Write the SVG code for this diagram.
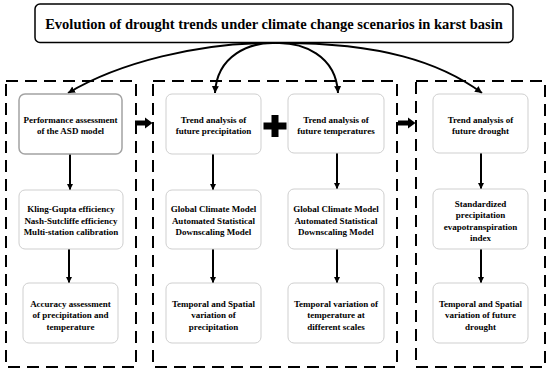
<svg xmlns="http://www.w3.org/2000/svg" width="550" height="374" viewBox="0 0 550 374" font-family="'Liberation Serif','DejaVu Serif','Times New Roman',serif">
<style>
text{font-family:"Liberation Serif","DejaVu Serif","Times New Roman",serif;font-weight:700;fill:#000;text-anchor:middle}
.t{font-size:9px}
.title{font-size:14.5px}
.box{fill:#fff;stroke:#cfcfcf;stroke-width:1}
.box.dark{stroke:#a3a3a3;stroke-width:1.5}
.panel{fill:none;stroke:#000;stroke-width:2;stroke-dasharray:12 7}
.con{fill:none;stroke:#000;stroke-width:2}
</style>
<defs>
<marker id="ah" markerWidth="8" markerHeight="8" refX="7" refY="4" orient="auto" markerUnits="userSpaceOnUse"><path d="M0,0.5 L7,4 L0,7.5 Z" fill="#000"/></marker>
<marker id="ahs" markerWidth="7" markerHeight="7" refX="6" refY="3.5" orient="auto" markerUnits="userSpaceOnUse"><path d="M0,0.5 L6,3.5 L0,6.5 Z" fill="#000"/></marker>
</defs>
<rect width="550" height="374" fill="#fff"/>
<g id="panels">
<rect class="panel" x="6" y="81" width="130" height="286"/>
<rect class="panel" x="153" y="81" width="244" height="286"/>
<rect class="panel" x="416" y="81" width="129" height="286"/>
</g>
<g id="title">
<rect x="35" y="4" width="478" height="38.5" rx="5" fill="#fff" stroke="#000" stroke-width="1.5"/>
<text class="title" x="274" y="28.5" font-family="Liberation Serif" font-weight="bold">Evolution of drought trends under climate change scenarios in karst basin</text>
</g>
<g id="connectors">
<path class="con" d="M268,43 C200,43 120,62 68,93" marker-end="url(#ah)"/>
<path class="con" d="M276,43 C250,42 217,55 215,93" marker-end="url(#ah)"/>
<path class="con" d="M276,43 C302,42 336,55 338,93" marker-end="url(#ah)"/>
<path class="con" d="M282,43 C380,43 440,62 482,93" marker-end="url(#ah)"/>
<line class="con" x1="70" y1="154" x2="70" y2="190" marker-end="url(#ahs)"/>
<line class="con" x1="69" y1="249" x2="69" y2="283" marker-end="url(#ahs)"/>
<line class="con" x1="213" y1="154" x2="213" y2="190" marker-end="url(#ahs)"/>
<line class="con" x1="213" y1="249" x2="213" y2="283" marker-end="url(#ahs)"/>
<line class="con" x1="337" y1="153" x2="337" y2="189" marker-end="url(#ahs)"/>
<line class="con" x1="337" y1="249" x2="337" y2="283" marker-end="url(#ahs)"/>
<line class="con" x1="481" y1="153" x2="481" y2="189" marker-end="url(#ahs)"/>
<line class="con" x1="481" y1="249" x2="481" y2="283" marker-end="url(#ahs)"/>
<polygon points="135,120.5 145,120.5 145,117.5 152.5,123 145,128.5 145,125.5 135,125.5" fill="#000"/>
<polygon points="398,120.5 408,120.5 408,117.5 415.5,123 408,128.5 408,125.5 398,125.5" fill="#000"/>
</g>
<g id="plus">
<polygon points="271.5,115 278.5,115 278.5,122.5 286.5,122.5 286.5,129.5 278.5,129.5 278.5,137 271.5,137 271.5,129.5 263.5,129.5 263.5,122.5 271.5,122.5" fill="#000"/>
</g>
<g id="n-perf">
<rect class="box dark" x="19" y="94" width="103" height="60" rx="6"/>
<text class="t" x="70.5" y="123">Performance assessment</text>
<text class="t" x="70.5" y="134">of the ASD model</text>
</g>
<g id="n-kge">
<rect class="box" x="19" y="190" width="104" height="59" rx="6"/>
<text class="t" x="71" y="212">Kling-Gupta efficiency</text>
<text class="t" x="71" y="223.5">Nash-Sutcliffe efficiency</text>
<text class="t" x="71" y="235">Multi-station calibration</text>
</g>
<g id="n-acc">
<rect class="box" x="23" y="283" width="95" height="60" rx="6"/>
<text class="t" x="70.5" y="306.5">Accuracy assessment</text>
<text class="t" x="70.5" y="318">of precipitation and</text>
<text class="t" x="70.5" y="329.5">temperature</text>
</g>
<g id="n-prec">
<rect class="box" x="166" y="94" width="95" height="60" rx="6"/>
<text class="t" x="213.5" y="123">Trend analysis of</text>
<text class="t" x="213.5" y="134">future precipitation</text>
</g>
<g id="n-gcm1">
<rect class="box" x="166" y="190" width="95" height="59" rx="6"/>
<text class="t" x="213.5" y="212">Global Climate Model</text>
<text class="t" x="213.5" y="223.5">Automated Statistical</text>
<text class="t" x="213.5" y="235">Downscaling Model</text>
</g>
<g id="n-prec-var">
<rect class="box" x="166" y="283" width="95" height="60" rx="6"/>
<text class="t" x="213.5" y="306.5">Temporal and Spatial</text>
<text class="t" x="213.5" y="318">variation of</text>
<text class="t" x="213.5" y="329.5">precipitation</text>
</g>
<g id="n-temp">
<rect class="box" x="288" y="94" width="96" height="59" rx="6"/>
<text class="t" x="336" y="123">Trend analysis of</text>
<text class="t" x="336" y="134">future temperatures</text>
</g>
<g id="n-gcm2">
<rect class="box" x="288" y="189" width="96" height="60" rx="6"/>
<text class="t" x="336" y="212">Global Climate Model</text>
<text class="t" x="336" y="223.5">Automated Statistical</text>
<text class="t" x="336" y="235">Downscaling Model</text>
</g>
<g id="n-temp-var">
<rect class="box" x="288" y="283" width="96" height="60" rx="6"/>
<text class="t" x="336" y="306.5">Temporal variation of</text>
<text class="t" x="336" y="318">temperature at</text>
<text class="t" x="336" y="329.5">different scales</text>
</g>
<g id="n-drought">
<rect class="box" x="433" y="94" width="95" height="59" rx="6"/>
<text class="t" x="480.5" y="123">Trend analysis of</text>
<text class="t" x="480.5" y="134">future drought</text>
</g>
<g id="n-spei">
<rect class="box" x="433" y="189" width="95" height="60" rx="6"/>
<text class="t" x="480.5" y="206.5">Standardized</text>
<text class="t" x="480.5" y="218">precipitation</text>
<text class="t" x="480.5" y="229.5">evapotranspiration</text>
<text class="t" x="480.5" y="241">index</text>
</g>
<g id="n-drought-var">
<rect class="box" x="433" y="283" width="95" height="60" rx="6"/>
<text class="t" x="480.5" y="306.5">Temporal and Spatial</text>
<text class="t" x="480.5" y="318">variation of future</text>
<text class="t" x="480.5" y="329.5">drought</text>
</g>
</svg>
